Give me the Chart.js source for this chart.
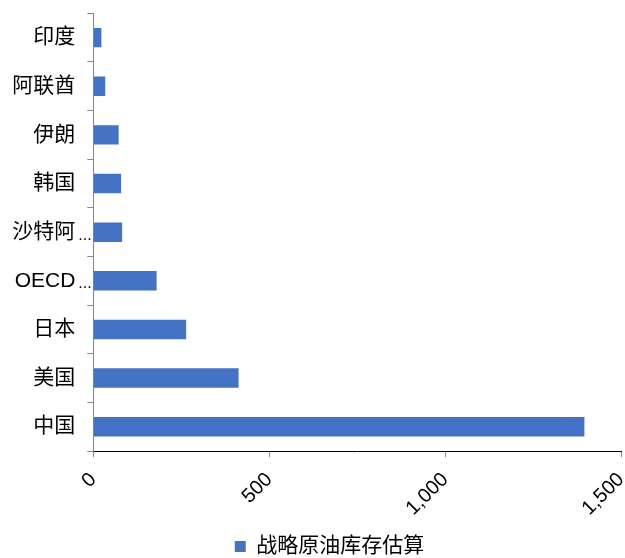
<!DOCTYPE html>
<html lang="zh">
<head>
<meta charset="utf-8">
<title>战略原油库存估算</title>
<script src="https://cdn.jsdelivr.net/npm/chart.js@4/dist/chart.umd.min.js"></script>
<style>
  html, body { margin: 0; padding: 0; background: #fff; }
  #wrap { width: 625px; height: 558px; }
</style>
</head>
<body>
<div id="wrap"><canvas id="chartReserve" width="625" height="558"></canvas></div>
<script>
const categories = ["印度", "阿联酋", "伊朗", "韩国", "沙特阿...", "OECD...", "日本", "美国", "中国"];
const reserveValues = [23, 34, 72, 79, 82, 180, 264, 413, 1396];
const xTicks = [0, 500, 1000, 1500];
const seriesName = "战略原油库存估算";

const FONT = "'Liberation Sans', 'Noto Sans CJK SC', sans-serif";
const BAR = "#4472C4";

// truncated labels: text right-aligned like the others, dots hang toward the axis
const ellipsisPlugin = {
  id: "ellipsis",
  afterDraw(chart) {
    const y = chart.scales.y;
    const ctx = chart.ctx;
    ctx.save();
    ctx.fillStyle = "#000";
    ctx.font = "16px " + FONT;
    ctx.textAlign = "left";
    ctx.textBaseline = "alphabetic";
    categories.forEach((c, i) => {
      if (!c.endsWith("...")) return;
      ctx.fillText("...", y.right - 15, y.getPixelForTick(i) + 7.5);
    });
    ctx.restore();
  },
};

// legend sits a bit right of canvas centre and close to the bottom edge
const legendNudge = {
  id: "legendNudge",
  afterLayout(chart) {
    const lg = chart.legend;
    if (!lg) return;
    lg.left += 19;
    lg.right += 19;
    lg.top += 9;
    lg.bottom += 9;
  },
};

new Chart(document.getElementById("chartReserve"), {
  type: "bar",
  data: {
    labels: categories,
    datasets: [
      {
        label: seriesName,
        data: reserveValues,
        backgroundColor: BAR,
        barPercentage: 0.4,
        categoryPercentage: 1,
      },
    ],
  },
  options: {
    indexAxis: "y",
    responsive: false,
    devicePixelRatio: 1,
    animation: false,
    layout: { padding: { left: 0, right: 4, top: 13.3, bottom: 0 } },
    plugins: {
      tooltip: { enabled: false },
      legend: {
        position: "bottom",
        labels: {
          color: "#000",
          font: { family: FONT, size: 21 },
          boxWidth: 11,
          boxHeight: 11,
          padding: 10,
        },
      },
    },
    scales: {
      x: {
        min: 0,
        max: 1500,
        afterBuildTicks(scale) {
          scale.ticks = xTicks.map((v) => ({ value: v }));
        },
        afterFit(scale) {
          scale.height = 66;
          scale.paddingLeft = 0;
          scale.paddingRight = 0;
        },
        border: { color: "#000", width: 1 },
        grid: { drawOnChartArea: false, tickLength: 6, color: "#888" },
        ticks: {
          color: "#000",
          font: { family: FONT, size: 20 },
          minRotation: 45,
          maxRotation: 45,
          padding: 11,
        },
      },
      y: {
        afterFit(scale) {
          scale.width = 93.3;
          scale.paddingTop = 0;
          scale.paddingBottom = 0;
        },
        border: { color: "#868686", width: 1 },
        grid: { drawOnChartArea: false, tickLength: 6, color: "#888", offset: true },
        ticks: {
          color: "#000",
          font: { family: FONT, size: 21 },
          padding: 12,
          callback(v, i) {
            return categories[i].replace(/\.\.\.$/, "");
          },
        },
      },
    },
  },
  plugins: [ellipsisPlugin, legendNudge],
});
</script>
</body>
</html>
